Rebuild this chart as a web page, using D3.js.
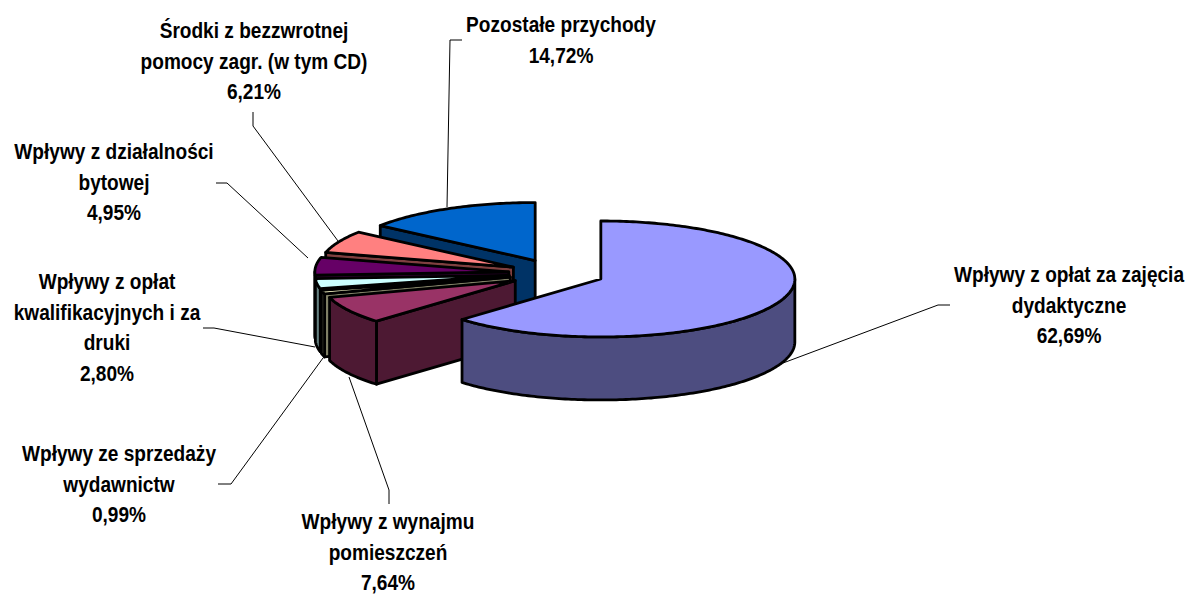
<!DOCTYPE html>
<html>
<head>
<meta charset="utf-8">
<style>
body { margin: 0; background: #fff; }
text { font-family: "Liberation Sans", Arial, sans-serif; font-weight: bold; font-size: 22px; fill: #000; text-anchor: middle; }
</style>
<script src="https://cdn.jsdelivr.net/npm/d3@7"></script>
</head>
<body>
<div id="chart"></div>
<script>
"use strict";

var names = ["Wpływy z opłat za zajęcia dydaktyczne", "Wpływy z wynajmu pomieszczeń", "Wpływy ze sprzedaży wydawnictw",
    "Wpływy z opłat kwalifikacyjnych i za druki", "Wpływy z działalności bytowej",
    "Środki z bezzwrotnej pomocy zagr. (w tym CD)", "Pozostałe przychody"];
var values = [62.69, 7.64, 0.99, 2.80, 4.95, 6.21, 14.72];
var topColors = ["#9999ff", "#993366", "#ffffcc", "#ccffff", "#660066", "#ff8080", "#0066cc"];
var sideColors = ["#4d4d80", "#4d1933", "#808066", "#668080", "#330033", "#804040", "#003366"];
var labelLines = [
    ["Wpływy z opłat za zajęcia", "dydaktyczne"],
    ["Wpływy z wynajmu", "pomieszczeń"],
    ["Wpływy ze sprzedaży", "wydawnictw"],
    ["Wpływy z opłat", "kwalifikacyjnych i za", "druki"],
    ["Wpływy z działalności", "bytowej"],
    ["Środki z bezzwrotnej", "pomocy zagr. (w tym CD)"],
    ["Pozostałe przychody"]
];
var labelPos = [[1069, 282], [388, 529], [119, 461], [107, 289], [114, 159], [254, 38], [561, 32]];
var leaders = [
    [[783, 363], [938, 305], [950, 305]],
    [[349, 377], [389, 490], [389, 504]],
    [[323, 358], [231, 484], [218, 484]],
    [[315, 347], [214, 328], [203, 328]],
    [[308, 258], [227, 183], [216, 183]],
    [[338, 241], [253, 126], [253, 112]],
    [[447, 207], [450, 40], [462, 40]]
];

var w = 1188, h = 594;
var cx = 556.6, cy = 273.4;     // centre before the slices are pulled out
var rx = 194, ry = 58, depth = 63, explode = 48;
var lineGap = 30.6, squeeze = 0.868;

var svg = d3.select("#chart").append("svg")
    .attr("width", w)
    .attr("height", h)
    .style("display", "block");

var pie = d3.pie().sort(null).value(function(d) { return d; });
var slices = pie(values);

var line = d3.line();

// point on the rim, angle is clockwise from 12 o'clock like d3.pie
function rim(c, a, dy) {
    return [c[0] + rx * Math.sin(a), c[1] - ry * Math.cos(a) + dy];
}

function arcPoints(c, a0, a1, dy) {
    var n = Math.max(2, Math.ceil((a1 - a0) * 60));
    return d3.range(n + 1).map(function(i) {
        return rim(c, a0 + (a1 - a0) * i / n, dy);
    });
}

//leader lines go under the pie
leaders.forEach(function(l) {
    svg.append("path")
        .attr("d", line(l))
        .attr("fill", "none")
        .attr("stroke", "#000")
        .attr("stroke-width", 1);
});

//draw back to front, pozostale first, the big slice last
var order = d3.range(slices.length).reverse();
order.forEach(function(i) {
    var s = slices[i];
    var mid = (s.startAngle + s.endAngle) / 2;
    var c = [cx + explode * Math.sin(mid), cy - explode * (ry / rx) * Math.cos(mid)];
    var g = svg.append("g")
        .attr("stroke", "#000")
        .attr("stroke-width", 2.8)
        .attr("stroke-linejoin", "round");

    //cut face on the start side, only seen on the left half
    if (s.startAngle > Math.PI) {
        var p = rim(c, s.startAngle, 0);
        g.append("path")
            .attr("d", line([c, p, [p[0], p[1] + depth], [c[0], c[1] + depth]]) + "Z")
            .attr("fill", sideColors[i]);
    }

    //outer wall, the part of the rim facing us
    var a0 = Math.max(s.startAngle, Math.PI / 2);
    var a1 = Math.min(s.endAngle, 3 * Math.PI / 2);
    if (a1 > a0) {
        var wall = arcPoints(c, a0, a1, 0).concat(arcPoints(c, a0, a1, depth).reverse());
        g.append("path")
            .attr("d", line(wall) + "Z")
            .attr("fill", sideColors[i]);
    }

    //top face
    g.append("path")
        .attr("d", line([c].concat(arcPoints(c, s.startAngle, s.endAngle, 0))) + "Z")
        .attr("fill", topColors[i]);
});

//labels
labelLines.forEach(function(lines, i) {
    var t = svg.append("text")
        .attr("transform", "translate(" + labelPos[i][0] + "," + labelPos[i][1] + ") scale(" + squeeze + ",1)");
    lines.concat([values[i].toFixed(2).replace(".", ",") + "%"]).forEach(function(str, j) {
        t.append("tspan")
            .attr("x", 0)
            .attr("dy", j == 0 ? 0 : lineGap)
            .text(str);
    });
});
</script>
</body>
</html>
